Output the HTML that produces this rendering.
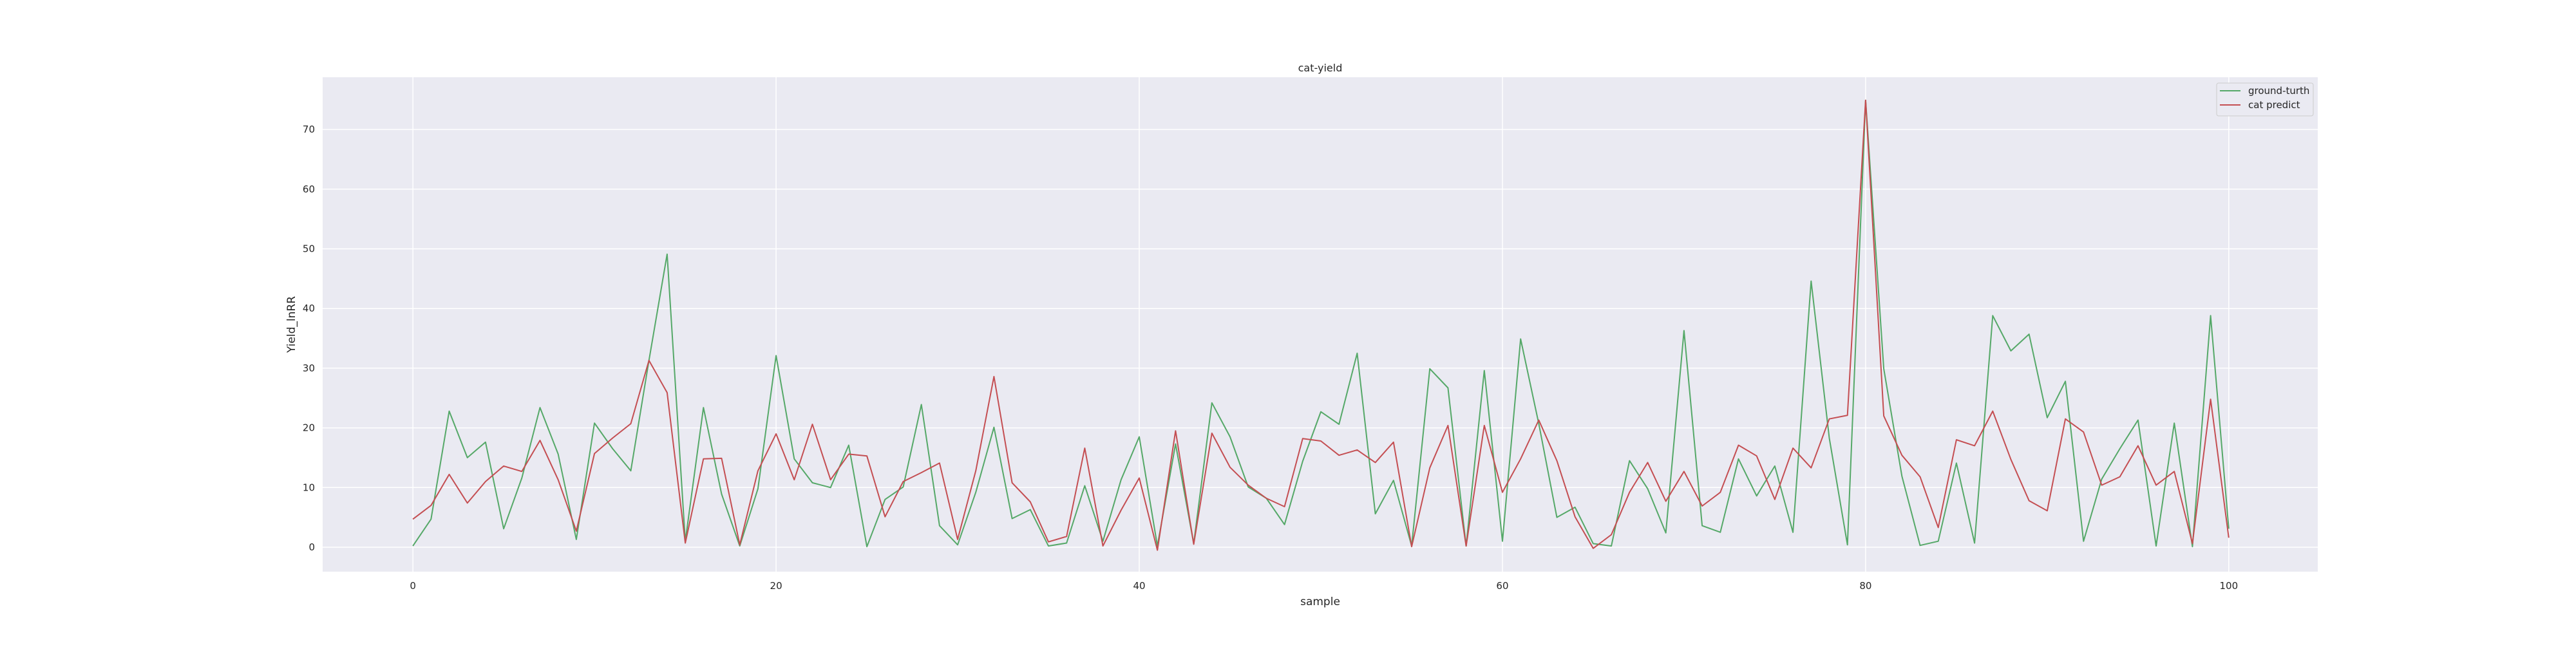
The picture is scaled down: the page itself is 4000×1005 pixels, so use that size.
<!DOCTYPE html>
<html><head><meta charset="utf-8"><style>
html,body{margin:0;padding:0;background:#fff;}
svg text{font-family:"DejaVu Sans","Liberation Sans",sans-serif;fill:#262626;}
</style></head><body>
<svg id="chart" width="4000" height="1000" xmlns="http://www.w3.org/2000/svg">
<rect x="501" y="120" width="3098" height="768" fill="#eaeaf2"/>
<g id="grid"></g>
<g id="series"></g>
<g id="ticks"></g>
<text x="2050" y="111" font-size="16" text-anchor="middle">cat-yield</text>
<text x="2050" y="940" font-size="17" text-anchor="middle">sample</text>
<text x="0" y="0" font-size="17" text-anchor="middle" transform="translate(458,504) rotate(-90)">Yield_lnRR</text>
<g>
<rect x="3442" y="129" width="150" height="51" rx="3" fill="#eaeaf2" stroke="#cccccc" stroke-width="1"/>
<g>
<line x1="3447" y1="141" x2="3479" y2="141" stroke="#55a868" stroke-width="2"/>
<text x="3491" y="146" font-size="15">ground-turth</text></g>
<g>
<line x1="3447" y1="163" x2="3479" y2="163" stroke="#c44e52" stroke-width="2"/>
<text x="3491" y="168" font-size="15">cat predict</text></g>
</g>
</svg>
<script>
const groundTruth = [0.2,4.7,22.8,15.0,17.6,3.1,11.6,23.4,15.6,1.3,20.8,16.5,12.8,31.3,49.1,1.0,23.4,8.9,0.2,9.8,32.1,14.8,10.8,10.0,17.1,
0.1,8.0,10.1,23.9,3.6,0.4,9.2,20.1,4.8,6.3,0.2,0.7,10.3,1.0,11.3,18.5,0.2,17.3,0.6,24.2,18.5,10.1,8.2,3.8,14.4,22.7,20.6,
32.5,5.6,11.2,0.2,29.9,26.7,0.2,29.6,1.0,34.9,20.7,5.0,6.7,0.6,0.2,14.5,9.8,2.4,36.3,3.6,2.5,14.8,8.6,13.6,2.5,44.6,18.3,0.4,
74.9,29.9,11.9,0.3,1.0,14.1,0.7,38.8,32.9,35.7,21.7,27.8,1.0,11.4,16.5,21.3,0.2,20.8,0.1,38.8,3.1];
const catPredict = [4.7,7.0,12.2,7.4,11.0,13.6,12.7,17.9,11.3,2.7,15.7,18.3,20.7,31.3,25.9,0.7,14.8,14.9,0.4,12.8,19.0,11.3,20.6,11.3,15.6,
15.3,5.1,11.0,12.5,14.1,1.3,12.8,28.6,10.8,7.6,0.9,1.8,16.6,0.2,6.2,11.6,-0.5,19.5,0.5,19.1,13.4,10.4,8.2,6.8,18.2,17.8,15.4,
16.3,14.2,17.6,0.1,13.3,20.4,0.2,20.4,9.2,14.8,21.3,14.5,5.1,-0.2,2.1,9.2,14.2,7.7,12.7,6.9,9.2,17.1,15.3,8.0,16.6,13.3,21.5,22.1,
74.9,22.0,15.4,11.8,3.3,18.0,17.0,22.8,14.7,7.8,6.1,21.5,19.3,10.4,11.8,17.0,10.4,12.7,0.6,24.8,1.6];
const xTicks = [0,20,40,60,80,100];
const yTicks = [0,10,20,30,40,50,60,70];

const NS = "http://www.w3.org/2000/svg";
const L=501,R=3599,T=120,B=888;
const xMin=-4.97,xMax=104.9,yMin=-4.1,yMax=78.75;
function xs(v){return L+(v-xMin)/(xMax-xMin)*(R-L);}
function ys(v){return B-(v-yMin)/(yMax-yMin)*(B-T);}
function mk(tag,attrs,parent){const e=document.createElementNS(NS,tag);for(const k in attrs)e.setAttribute(k,attrs[k]);parent.appendChild(e);return e;}
const grid=document.getElementById('grid'),ticks=document.getElementById('ticks'),series=document.getElementById('series');
xTicks.forEach(t=>{
  const g=mk('line',{x1:xs(t),x2:xs(t),y1:T,y2:B,stroke:'#fff','stroke-width':1.5},grid);
  
  
  const tx=mk('text',{x:xs(t),y:B+27,'font-size':15,'text-anchor':'middle'},ticks);
  tx.textContent=t;
  
  
});
yTicks.forEach(t=>{
  const g=mk('line',{x1:L,x2:R,y1:ys(t),y2:ys(t),stroke:'#fff','stroke-width':1.5},grid);
  
  
  const tx=mk('text',{x:L-12,y:ys(t)+5,'font-size':15,'text-anchor':'end'},ticks);
  tx.textContent=t;
  
  
});
function drawLine(arr,color,name){
  const pts=arr.map((v,i)=>xs(i).toFixed(1)+','+ys(v).toFixed(1)).join(' ');
  const p=mk('polyline',{points:pts,fill:'none',stroke:color,'stroke-width':2,'stroke-linejoin':'round'},series);
  
  
}
drawLine(groundTruth,'#55a868','ground-truth-line');
drawLine(catPredict,'#c44e52','cat-predict-line');
</script>
</body></html>
